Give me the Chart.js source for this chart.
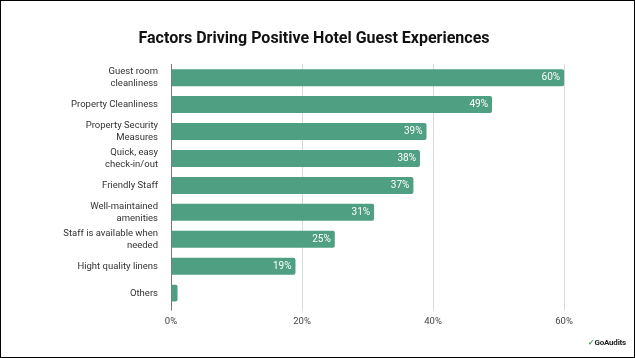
<!DOCTYPE html>
<html>
<head>
<meta charset="utf-8">
<script src="https://cdn.jsdelivr.net/npm/chart.js@4"></script>
<style>
  html, body { margin: 0; padding: 0; background: #fff; }
  #wrap { position: relative; width: 635px; height: 358px; box-sizing: border-box; border: 1px solid #000; }
  canvas { display: block; }
  #logo { position: absolute; right: 8px; bottom: 10px; font: 700 8px Roboto, sans-serif; color: #222; letter-spacing: -0.2px; }
  #logo span { color: #3a9a5a; font-weight: 700; }
</style>
</head>
<body>
<div id="wrap">
  <canvas id="c" width="633" height="356"></canvas>
  <div id="logo"><span>✓</span>GoAudits</div>
</div>
<script>
const categories = [
  ["Guest room", "cleanliness"],
  "Property Cleanliness",
  ["Property Security", "Measures"],
  ["Quick, easy", "check-in/out"],
  "Friendly Staff",
  ["Well-maintained", "amenities"],
  ["Staff is available when", "needed"],
  "Hight quality linens",
  "Others"
];
const values = [60, 49, 39, 38, 37, 31, 25, 19, 1];
const valueLabels = ["60%", "49%", "39%", "38%", "37%", "31%", "25%", "19%", ""];
const tickValues = [0, 20, 40, 60];

const barLabelPlugin = {
  id: 'barLabels',
  afterDatasetsDraw(chart) {
    const ctx = chart.ctx;
    const meta = chart.getDatasetMeta(0);
    ctx.save();
    ctx.fillStyle = '#ffffff';
    ctx.font = '10px Roboto, sans-serif';
    ctx.textAlign = 'right';
    ctx.textBaseline = 'middle';
    meta.data.forEach((bar, i) => {
      const t = valueLabels[i];
      if (t) ctx.fillText(t, bar.x - 4, bar.y);
    });
    ctx.restore();
  }
};

new Chart(document.getElementById('c'), {
  type: 'bar',
  data: {
    labels: categories,
    datasets: [{
      data: values,
      backgroundColor: '#4f9f82',
      borderRadius: 2,
      borderSkipped: 'start',
      barPercentage: 0.63,
      categoryPercentage: 1
    }]
  },
  options: {
    indexAxis: 'y',
    responsive: false,
    animation: false,
    layout: { padding: { top: 8, right: 7, bottom: 25, left: 0 } },
    plugins: {
      legend: { display: false },
      tooltip: { enabled: false },
      title: {
        display: true,
        text: 'Factors Driving Positive Hotel Guest Experiences',
        color: '#111',
        font: { family: 'Roboto', size: 16, weight: 'bold' },
        padding: { top: 20, bottom: 16 }
      }
    },
    scales: {
      x: {
        min: 0,
        max: 69.6,
        afterBuildTicks(axis) { axis.ticks = tickValues.map(v => ({ value: v })); },
        ticks: {
          callback: v => v + '%',
          color: '#444',
          font: { family: 'Roboto', size: 9.5 },
          padding: 5
        },
        grid: {
          color: (c) => c.tick && c.tick.value === 0 ? '#777' : '#d9d9d9',
          lineWidth: 1,
          drawTicks: true,
          tickLength: 4
        },
        border: { display: false }
      },
      y: {
        afterFit(axis) { axis.width = 170; },
        ticks: {
          color: '#333',
          font: { family: 'Roboto', size: 9.5, lineHeight: 1.25 },
          padding: 5
        },
        grid: { display: false },
        border: { display: false }
      }
    }
  },
  plugins: [barLabelPlugin]
});
</script>
</body>
</html>
